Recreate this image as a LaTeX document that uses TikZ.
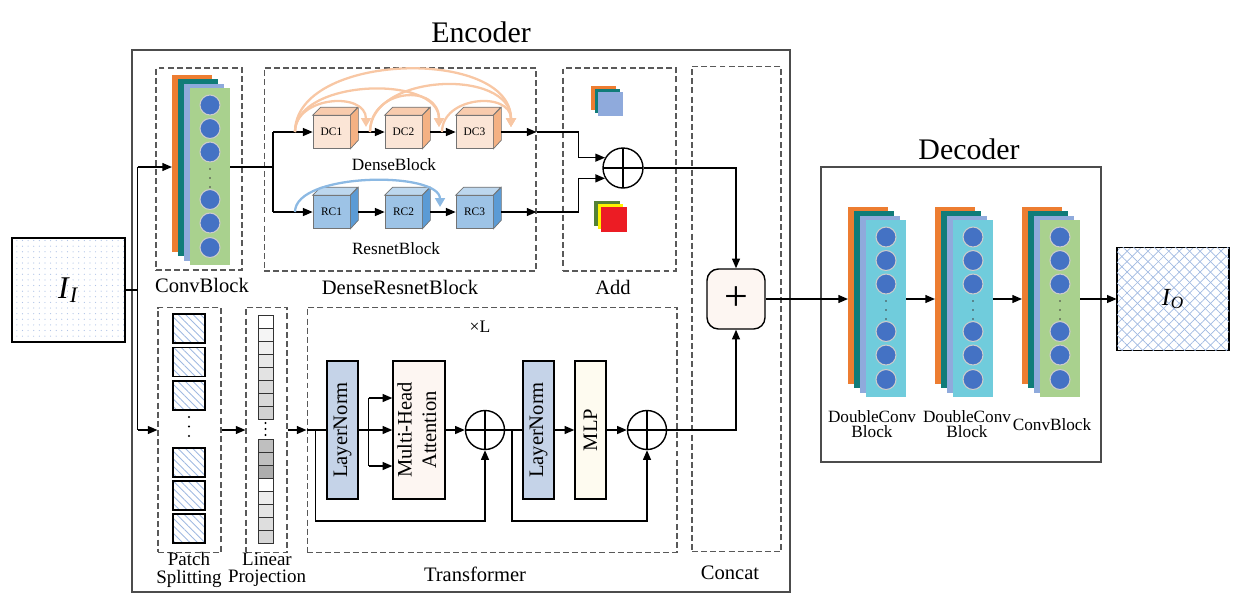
\documentclass[tikz,border=0pt]{standalone}
\usepackage{fontspec}
\setmainfont{Liberation Serif}
\usepackage{graphicx}
\usetikzlibrary{arrows.meta, calc, patterns.meta}
\definecolor{maporange}{RGB}{237,125,49}
\definecolor{mapteal}{RGB}{16,124,121}
\definecolor{maplilac}{RGB}{143,170,220}
\definecolor{mapgreen}{RGB}{169,209,142}
\definecolor{mapcyan}{RGB}{112,204,220}
\definecolor{neuron}{RGB}{68,114,196}
\definecolor{dcfront}{RGB}{251,229,214}
\definecolor{dcside}{RGB}{244,177,131}
\definecolor{dctop}{RGB}{248,203,173}
\definecolor{rcfront}{RGB}{157,195,230}
\definecolor{rcside}{RGB}{91,155,213}
\definecolor{rctop}{RGB}{189,215,238}
\definecolor{arcorange}{RGB}{248,199,164}
\definecolor{arcblue}{RGB}{140,185,227}
\definecolor{normfill}{RGB}{197,211,232}
\definecolor{attnfill}{RGB}{253,246,242}
\definecolor{mlpfill}{RGB}{254,251,240}
\definecolor{addgreen}{RGB}{84,130,53}
\definecolor{addyellow}{RGB}{255,242,0}
\definecolor{addred}{RGB}{236,28,36}
\definecolor{hatchblue}{RGB}{160,185,225}
\definecolor{dotblue}{RGB}{175,195,230}
\newcommand{\lblfont}{\fontsize{11.7}{14}\selectfont}
\newcommand{\smallfont}{\fontsize{9.8}{8.6}\selectfont}

% stack of feature maps: name, left x, top y, colour of the front map
\newcommand{\fmstack}[4]{%
  \node[fmap, fill=maporange] (#1-back) at (#2+20,#3+88.5) {};
  \fill[mapteal] (#2+6,#3+4.4) rectangle ++(40,177);
  \fill[maplilac] (#2+12,#3+8.8) rectangle ++(40,177);
  \node[fmap, fill=#4] (#1) at (#2+38,#3+101.7) {};
  \foreach \dy in {30,53.5,77,124.5,148,172.5}
    \filldraw[fill=neuron, draw=gray!40, line width=0.6pt] (#2+38,#3+\dy) circle (0.2cm);
  \foreach \dy in {94,103,112}
    \fill[black!75] (#2+38,#3+\dy) circle (0.45pt);
  \coordinate (#1-in) at (#2,#3+92);
  \coordinate (#1-out) at (#2+58,#3+92);
}

% cube: name, centre x, centre y, label, front, side, top
\newcommand{\featcube}[7]{%
  \node[face, fill=#5] (#1) at (#2,#3) {#4};
  \filldraw[fill=#7, draw=black!55, line width=0.4pt] (#1.north west) -- ++(8,-8) -- ++(37,0) -- (#1.north east) -- cycle;
  \filldraw[fill=#6, draw=black!55, line width=0.4pt] (#1.north east) -- ++(8,-8) -- ++(0,33) -- (#1.south east) -- cycle;
}

\begin{document}
\begin{tikzpicture}[x=0.02cm, y=-0.02cm,
    wire/.style={thick},
    arr/.style={thick, -{Triangle[length=5.5pt, width=4.5pt]}},
    dashbox/.style={draw=black!65, dash pattern=on 3.4pt off 1.8pt, line width=0.6pt, inner sep=0pt},
    frame/.style={draw=black!70, line width=0.7pt, inner sep=0pt},
    lbl/.style={font=\lblfont, align=center},
    sublbl/.style={font=\smallfont, align=center},
    fmap/.style={minimum width=0.8cm, minimum height=3.54cm, inner sep=0pt},
    face/.style={draw=black!55, line width=0.4pt, minimum width=0.74cm, minimum height=0.66cm, inner sep=0pt, font=\fontsize{6.5}{7}\selectfont},
    adder/.style={circle, draw, thick, minimum size=#1, inner sep=0pt,
      path picture={\draw[thick] (path picture bounding box.north) -- (path picture bounding box.south)
        (path picture bounding box.east) -- (path picture bounding box.west);}},
    tblock/.style={draw, thick, minimum width=0.62cm, minimum height=2.76cm, inner sep=0pt, font=\fontsize{11.7}{14}\selectfont},
    densearc/.style={draw=arcorange, line width=1.3pt, -{Triangle[length=5pt, width=5.5pt]}},
    resarc/.style={draw=arcblue, line width=1.3pt, -{Triangle[length=5pt, width=5.5pt]}},
    patch/.style={draw, thick, pattern={Lines[angle=-45, distance=3pt, line width=0.5pt]}, pattern color=hatchblue},
    cell/.style={draw=black!80, line width=0.5pt}
  ]
  \useasboundingbox (0,0) rectangle (1236,606);

  % outer frames
  \node[frame, minimum width=13.16cm, minimum height=10.84cm] (encoder) at (461,321) {};
  \node[frame, minimum width=5.6cm, minimum height=5.9cm] (decoder) at (961,314.5) {};
  \node[font=\fontsize{17}{20}\selectfont] (enclabel) at (481,32) {Encoder};
  \node[font=\fontsize{17}{20}\selectfont] (declabel) at (969,149) {Decoder};

  % dashed groups
  \node[dashbox, minimum width=1.72cm, minimum height=4.04cm] (convbox) at (199,169) {};
  \node[dashbox, minimum width=5.44cm, minimum height=4.06cm] (drbox) at (400,169.5) {};
  \node[dashbox, minimum width=2.26cm, minimum height=4.06cm] (addbox) at (619.5,169.5) {};
  \node[dashbox, minimum width=1.78cm, minimum height=9.72cm] (catbox) at (736.5,309) {};
  \node[dashbox, minimum width=1.26cm, minimum height=4.9cm] (patchbox) at (189.5,430) {};
  \node[dashbox, minimum width=0.82cm, minimum height=4.9cm] (projbox) at (266.5,430) {};
  \node[dashbox, minimum width=7.4cm, minimum height=4.9cm] (tfbox) at (492,430) {};

  \node[lbl] (cblabel) at (202,285) {ConvBlock};
  \node[lbl] (drlabel) at (400,287) {DenseResnetBlock};
  \node[lbl] (addlabel) at (613,287) {Add};
  \node[lbl] (catlabel) at (730,573) {Concat};
  \node[lbl] (tflabel) at (475,574) {Transformer};
  \node[lbl, font=\fontsize{10.8}{9.8}\selectfont] (patchlabel) at (189,570) {Patch\\Splitting};
  \node[lbl, font=\fontsize{10.8}{9.8}\selectfont] (projlabel) at (267,570) {Linear\\Projection};
  \node[font=\fontsize{10}{12}\selectfont] (xl) at (480,327) {×L};

  % input and output images
  \node[draw, thick, minimum width=2.26cm, minimum height=2.08cm,
    pattern={Dots[distance=3.2pt, radius=0.35pt]}, pattern color=dotblue,
    font=\fontsize{18}{20}\selectfont] (ii) at (68.5,290) {\textit{I}\textsubscript{\textit{I}}};
  \node[draw, thick, minimum width=2.24cm, minimum height=2.06cm,
    pattern={Lines[angle=45, distance=4.2pt, line width=0.4pt]}, pattern color=hatchblue,
    postaction={pattern={Lines[angle=-45, distance=4.2pt, line width=0.4pt]}, pattern color=hatchblue},
    font=\fontsize{14}{16}\selectfont] (io) at (1173,299) {\textit{I}\textsubscript{\textit{O}}};

  % conv block
  \fmstack{cb}{172}{75}{mapgreen}

  % dense and resnet blocks
  \featcube{dc1}{331.5}{132}{DC1}{dcfront}{dcside}{dctop}
  \featcube{dc2}{403.5}{132}{DC2}{dcfront}{dcside}{dctop}
  \featcube{dc3}{474.5}{132}{DC3}{dcfront}{dcside}{dctop}
  \featcube{rc1}{331.5}{212}{RC1}{rcfront}{rcside}{rctop}
  \featcube{rc2}{403.5}{212}{RC2}{rcfront}{rcside}{rctop}
  \featcube{rc3}{474.5}{212}{RC3}{rcfront}{rcside}{rctop}
  \node[sublbl] (dblabel) at (394,165) {DenseBlock};
  \node[sublbl] (rblabel) at (396,249) {ResnetBlock};

  % add
  \foreach \k/\c in {0/maporange,1/mapteal,2/maplilac}
    \fill[\c] (591+3.5*\k,86+3*\k) rectangle ++(25,24);
  \foreach \k/\c in {0/addgreen,1/addyellow,2/addred}
    \fill[\c] (594+3.5*\k,201+3*\k) rectangle ++(25.5,25);
  \node[adder=0.8cm] (add) at (623,168) {};

  % concat
  \node[draw, thick, rounded corners=6.5pt, fill=attnfill, minimum width=1.16cm, minimum height=1.2cm,
    font=\fontsize{24}{26}\selectfont] (plus) at (736,299) {+};

  % patches and projection
  \foreach \py in {314,347.5,381,448,481,514}
    \draw[patch] (173,\py) rectangle ++(32,29);
  \foreach \py in {417,426.5,436}
    \fill (189,\py) circle (0.7pt);
  \foreach \k/\g in {0/0,1/4,2/6,3/9,4/11,5/15,6/15,7/18}
    \draw[cell, fill=black!\g] (258,315+13*\k) rectangle ++(15,13);
  \foreach \k/\g in {0/25,1/25,2/32,3/0,4/7,5/10,6/13,7/16}
    \draw[cell, fill=black!\g] (258,439+13*\k) rectangle ++(15,13);
  \foreach \py in {423,429,435}
    \fill (265.5,\py) circle (0.6pt);

  % transformer
  \node[tblock, fill=normfill] (norm1) at (342.5,430) {\rotatebox{90}{LayerNorm}};
  \node[tblock, fill=attnfill, minimum width=1.04cm] (mha) at (419,430)
    {\rotatebox{90}{\begin{tabular}{@{}c@{}}Multi-Head\\Attention\end{tabular}}};
  \node[adder=0.78cm] (sum1) at (485,430) {};
  \node[tblock, fill=normfill] (norm2) at (538.5,430) {\rotatebox{90}{LayerNorm}};
  \node[tblock, fill=mlpfill] (mlp) at (590.5,430) {\rotatebox{90}{MLP}};
  \node[adder=0.78cm] (sum2) at (647,430) {};

  % decoder
  \fmstack{dec1}{848}{207}{mapcyan}
  \fmstack{dec2}{935}{207}{mapcyan}
  \fmstack{dec3}{1022}{207}{mapgreen}
  \node[sublbl] (d1label) at (872,424) {DoubleConv\\Block};
  \node[sublbl] (d2label) at (967,424) {DoubleConv\\Block};
  \node[sublbl] (d3label) at (1052,425) {ConvBlock};

  % input split
  \draw[wire] (ii.east) -- ++(12,0) coordinate (infork);
  \draw[wire] (infork |- cb-in) -- (infork |- patchbox.west);
  \draw[arr] (infork |- cb-in) -- (cb-in);
  \draw[arr] (infork |- patchbox.west) -- (patchbox.west);

  % conv block to dense/resnet
  \draw[wire] (cb-out) -- ++(43,0) coordinate (drfork);
  \draw[wire] (drfork |- dc1.west) -- (drfork |- rc1.west);
  \draw[arr] (drfork |- dc1.west) -- (dc1.west);
  \draw[arr] (drfork |- rc1.west) -- (rc1.west);
  \draw[arr] ($(dc1.east)+(8,0)$) -- (dc2.west);
  \draw[arr] ($(dc2.east)+(8,0)$) -- (dc3.west);
  \draw[arr] ($(rc1.east)+(8,0)$) -- (rc2.west);
  \draw[arr] ($(rc2.east)+(8,0)$) -- (rc3.west);

  % dense connections
  \coordinate (tap0) at (295,132);
  \coordinate (tap1) at (370,132);
  \coordinate (tap2) at (442,132);
  \coordinate (hit1) at (366,127);
  \coordinate (hit2) at (439,127);
  \coordinate (hit3) at (511,127);
  \foreach \a/\b/\h in {tap0/hit1/36, tap0/hit2/53, tap0/hit3/80, tap1/hit2/44, tap1/hit3/59, tap2/hit3/36}
    \draw[densearc] (\a) .. controls +(0,-\h) and +(0,-\h) .. (\b);
  \coordinate (rtap) at (295,212);
  \coordinate (rhit) at (440,207);
  \draw[resarc] (rtap) .. controls +(0,-40) and +(0,-36) .. (rhit);

  % into the add
  \draw[arr] ($(dc3.east)+(8,0)$) -- (dc3.east -| drbox.east);
  \draw[arr] ($(rc3.east)+(8,0)$) -- (rc3.east -| drbox.east);
  \draw[arr] (dc3.east -| drbox.east) -- ++(42,0) |- (add.150);
  \draw[arr] (rc3.east -| drbox.east) -- ++(42,0) |- (add.210);
  \draw[arr] (add.east) -| (plus.north);

  % patch branch
  \draw[arr] (patchbox.east) -- (projbox.west);
  \draw[arr] (projbox.east) -- (tfbox.west);
  \draw[wire] (tfbox.west) -- (norm1.west);
  \draw[arr] ($(tfbox.west)+(9,0)$) -- ++(0,91) -| (sum1.south);
  \draw[wire] (norm1.east) -- ++(10,0) coordinate (mhafork);
  \coordinate (forkup) at ($(mhafork)+(0,-32)$);
  \coordinate (forkdn) at ($(mhafork)+(0,36)$);
  \draw[wire] (forkup) -- (forkdn);
  \draw[arr] (forkup) -- (forkup -| mha.west);
  \draw[arr] (mhafork) -- (mha.west);
  \draw[arr] (forkdn) -- (forkdn -| mha.west);
  \draw[arr] (mha.east) -- (sum1.west);
  \draw[wire] (sum1.east) -- (norm2.west);
  \draw[arr] ($(sum1.east)!0.4!(norm2.west)$) -- ++(0,91) -| (sum2.south);
  \draw[arr] (norm2.east) -- (mlp.west);
  \draw[arr] (mlp.east) -- (sum2.west);
  \draw[arr] (sum2.east) -| (plus.south);

  % decoder chain
  \draw[arr] (plus.east) -- (dec1-in);
  \draw[arr] (dec1-out) -- (dec2-in);
  \draw[arr] (dec2-out) -- (dec3-in);
  \draw[arr] (dec3-out) -- (io.west);
\end{tikzpicture}
\end{document}
